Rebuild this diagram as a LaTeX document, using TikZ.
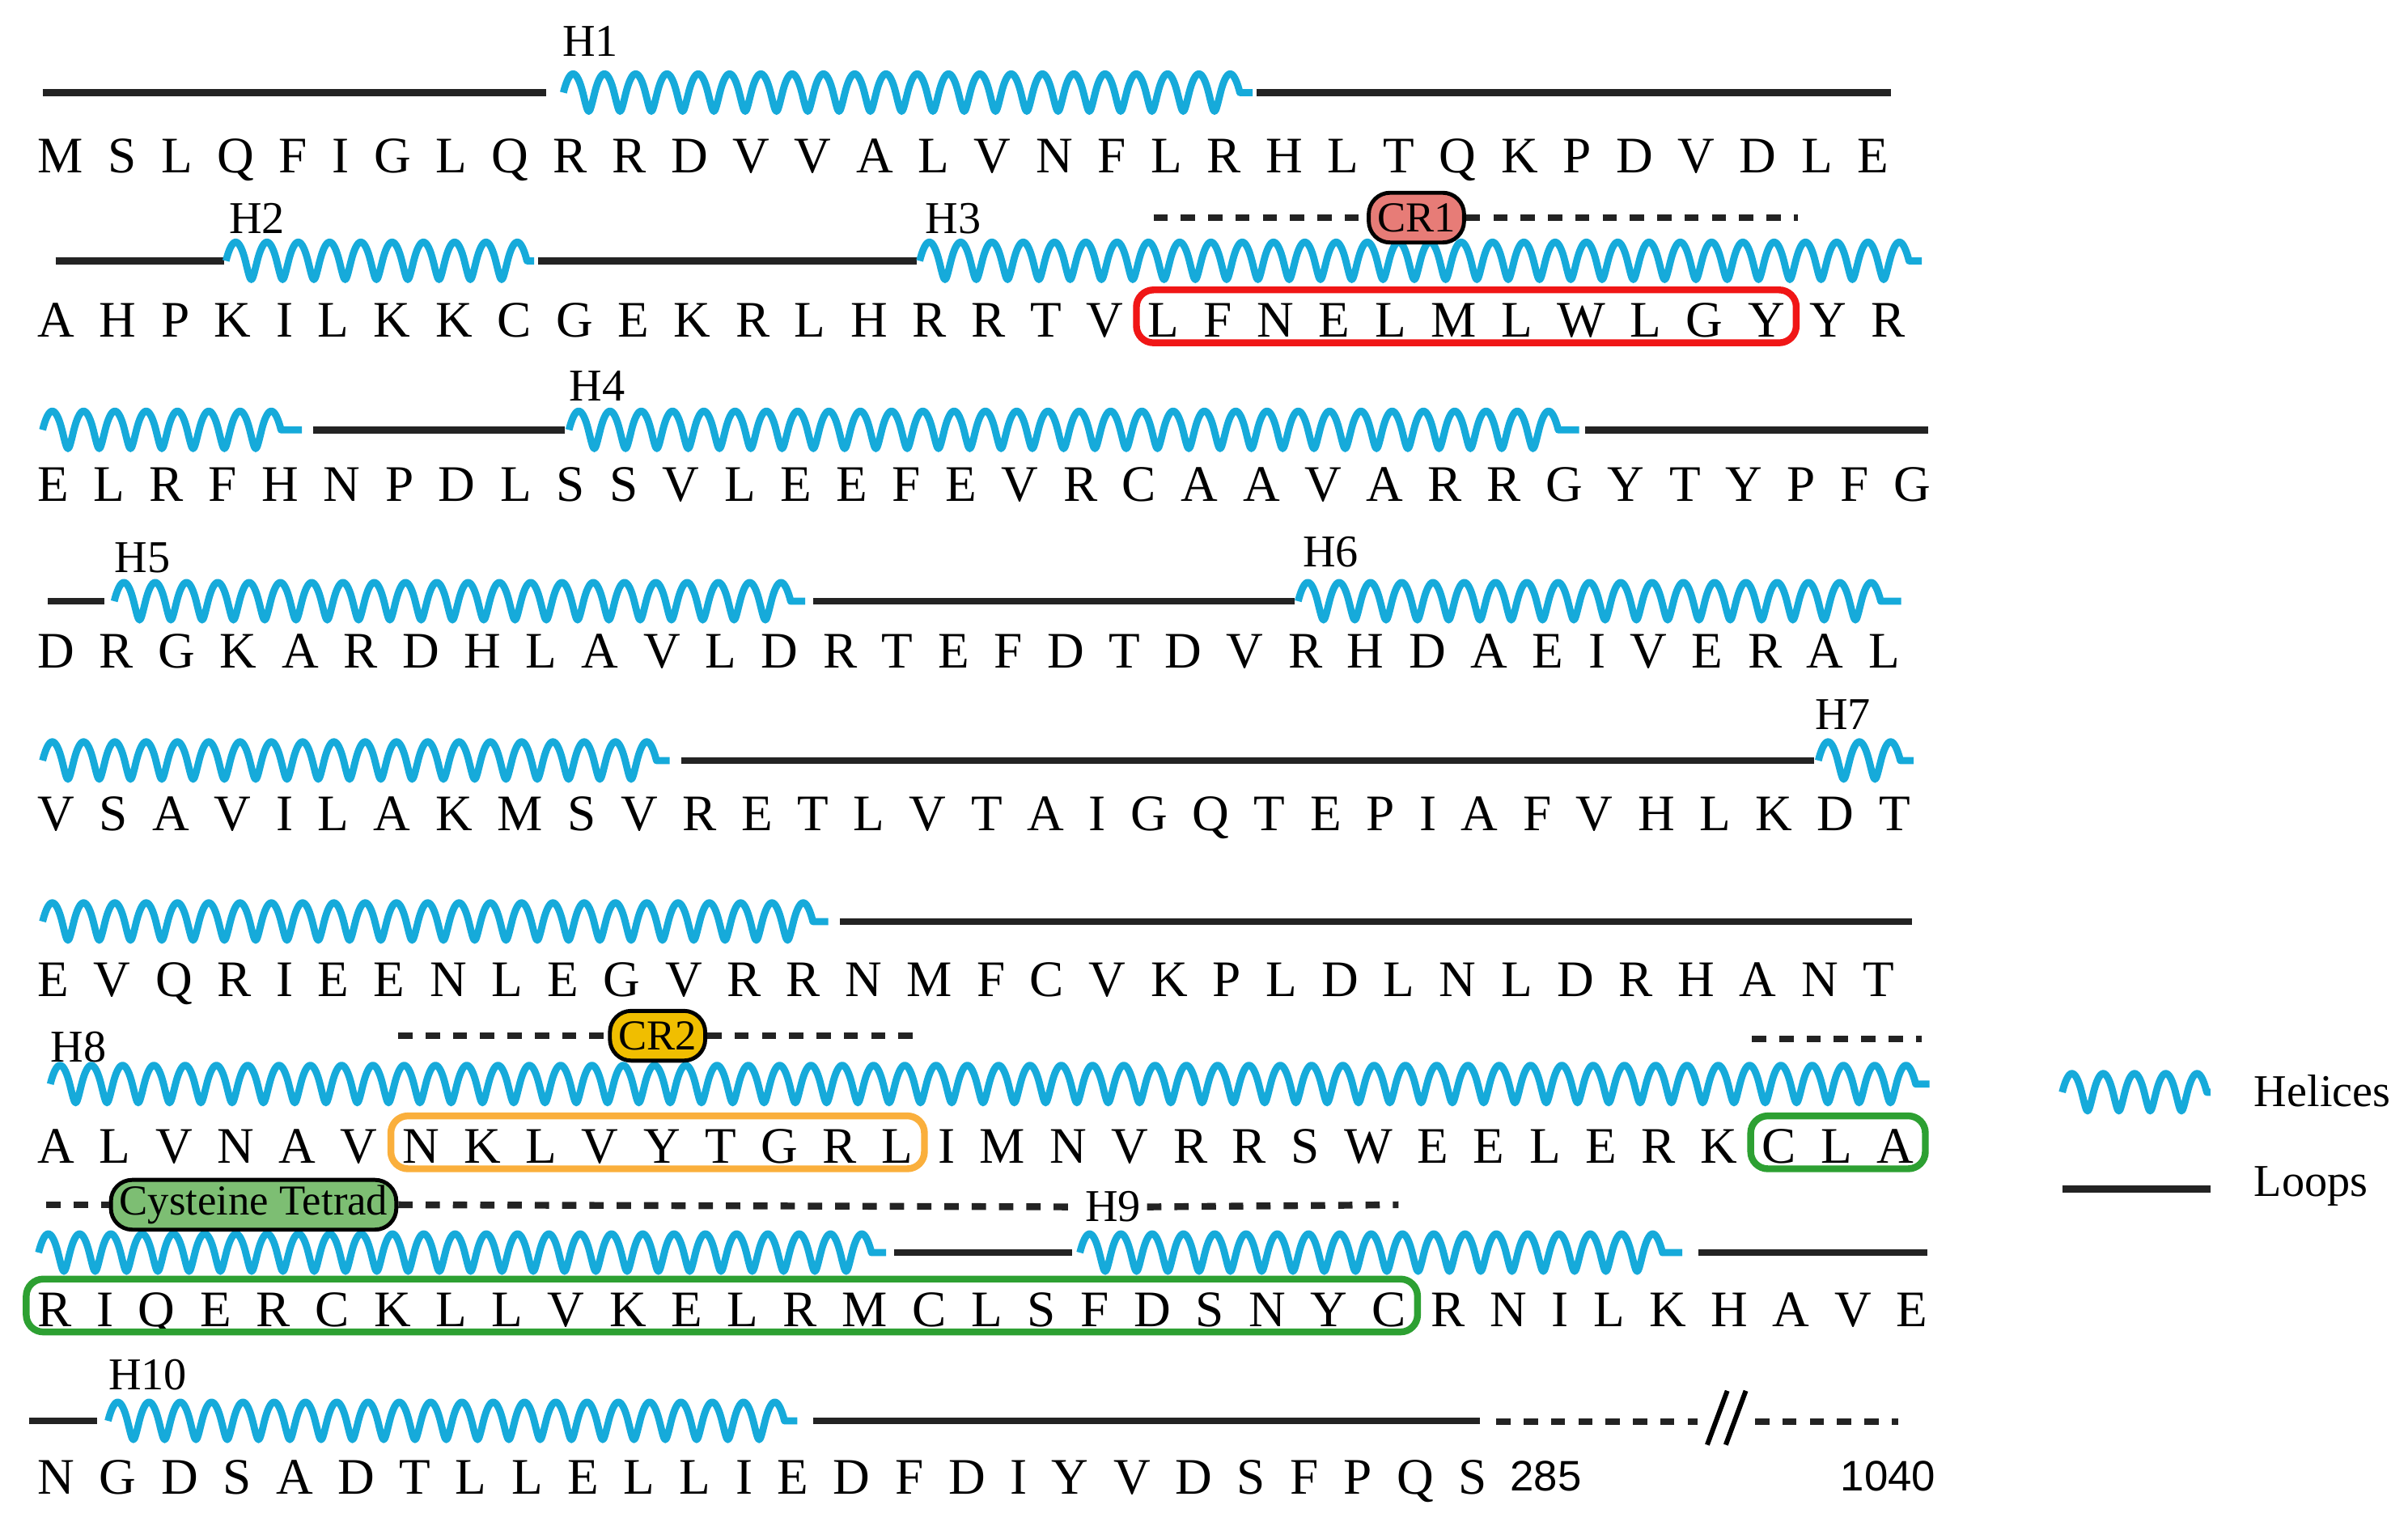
\documentclass[tikz,border=0pt]{standalone}
\usepackage{fontspec}
\setmainfont{Liberation Serif}
\newfontfamily\numfont{Liberation Sans}
\usetikzlibrary{positioning,fit,decorations.pathmorphing}

\definecolor{helixblue}{RGB}{22,170,218}
\definecolor{loopgray}{RGB}{35,35,35}
\definecolor{crred}{RGB}{231,124,119}
\definecolor{crgold}{RGB}{240,190,0}
\definecolor{cysgreen}{RGB}{125,190,115}
\definecolor{boxred}{RGB}{240,22,22}
\definecolor{boxorange}{RGB}{250,175,60}
\definecolor{boxgreen}{RGB}{45,160,50}

\newcommand\aarow[3]{%
  \foreach \a [count=\i] in {#3}{%
    \ifnum\i=1
      \node[aa] (#1-1) at (24,#2) {\a};
    \else
      \pgfmathtruncatemacro\j{\i-1}
      \node[aa,base right=8.3pt of #1-\j] (#1-\i) {\a};
    \fi}}

\begin{document}
\begin{tikzpicture}[x=0.019077cm,y=-0.019077cm]
\tikzstyle{aa}=[anchor=base west,inner sep=0pt,text height=11.8pt,text depth=0pt,font=\fontsize{18}{18}\selectfont]
\tikzstyle{hname}=[anchor=base west,inner sep=0pt,font=\fontsize{16}{16}\selectfont]
\tikzstyle{helix}=[helixblue,line width=2.5pt,line join=round,decorate,decoration={coil,amplitude=6.6pt,segment length=11pt,aspect=0.1}]
\tikzstyle{loopline}=[loopgray,line width=2.5pt]
\tikzstyle{gapline}=[loopgray,line width=2.4pt,dash pattern=on 5pt off 4.6pt]
\tikzstyle{pill}=[draw=black,line width=1.4pt,rounded corners=7.5pt,minimum height=17.5pt,inner xsep=3pt,inner ysep=0pt,font=\fontsize{15}{15}\selectfont]
\tikzstyle{motif}=[draw,line width=2.4pt,rounded corners=6pt,inner xsep=3.8pt,inner ysep=3.2pt,yshift=1.4pt]
\useasboundingbox (0,0) rectangle (1560,986);

\aarow{r1}{111.8}{M,S,L,Q,F,I,G,L,Q,R,R,D,V,V,A,L,V,N,F,L,R,H,L,T,Q,K,P,D,V,D,L,E}
\aarow{r2}{218.4}{A,H,P,K,I,L,K,K,C,G,E,K,R,L,H,R,R,T,V,L,F,N,E,L,M,L,W,L,G,Y,Y,R}
\aarow{r3}{325}{E,L,R,F,H,N,P,D,L,S,S,V,L,E,E,F,E,V,R,C,A,A,V,A,R,R,G,Y,T,Y,P,F,G}
\aarow{r4}{432.5}{D,R,G,K,A,R,D,H,L,A,V,L,D,R,T,E,F,D,T,D,V,R,H,D,A,E,I,V,E,R,A,L}
\aarow{r5}{538.2}{V,S,A,V,I,L,A,K,M,S,V,R,E,T,L,V,T,A,I,G,Q,T,E,P,I,A,F,V,H,L,K,D,T}
\aarow{r6}{645.6}{E,V,Q,R,I,E,E,N,L,E,G,V,R,R,N,M,F,C,V,K,P,L,D,L,N,L,D,R,H,A,N,T}
\aarow{r7}{753.5}{A,L,V,N,A,V,N,K,L,V,Y,T,G,R,L,I,M,N,V,R,R,S,W,E,E,L,E,R,K,C,L,A}
\aarow{r8}{859.2}{R,I,Q,E,R,C,K,L,L,V,K,E,L,R,M,C,L,S,F,D,S,N,Y,C,R,N,I,L,K,H,A,V,E}
\aarow{r9}{968}{N,G,D,S,A,D,T,L,L,E,L,L,I,E,D,F,D,I,Y,V,D,S,F,P,Q,S}

\node[hname] (h1) at (364,36.5) {H1};
\node[hname] (h2) at (148,151) {H2};
\node[hname] (h3) at (599,151) {H3};
\node[hname] (h4) at (368.6,259.5) {H4};
\node[hname] (h5) at (74,371) {H5};
\node[hname] (h6) at (843.6,367) {H6};
\node[hname] (h7) at (1175.5,472.7) {H7};
\node[hname] (h8) at (32.6,688) {H8};
\node[hname,inner xsep=2pt] (h9) at (699,791.5) {H9};
\node[hname] (h10) at (70,900.4) {H10};

\draw[loopline] (27.6,60) -- (353.6,60);
\draw[helix] (365,60) -- (811.5,60);
\draw[loopline] (814,60) -- (1225,60);

\draw[loopline] (36,169) -- (145.4,169);
\draw[helix] (146.4,169) -- (346,169);
\draw[loopline] (348.5,169) -- (594,169);
\draw[helix] (595.8,169) -- (1245,169);

\draw[helix] (27.6,278.5) -- (195.6,278.5);
\draw[loopline] (203,278.5) -- (366,278.5);
\draw[helix] (368.6,278.5) -- (1023,278.5);
\draw[loopline] (1027,278.5) -- (1249,278.5);

\draw[loopline] (31,389.5) -- (67.7,389.5);
\draw[helix] (74,389.5) -- (521.6,389.5);
\draw[loopline] (526.6,389.5) -- (838.7,389.5);
\draw[helix] (841,389.5) -- (1231.6,389.5);

\draw[helix] (27.6,492.7) -- (433.8,492.7);
\draw[loopline] (441.3,492.7) -- (1175,492.7);
\draw[helix] (1178,492.7) -- (1239.7,492.7);

\draw[helix] (27.6,597) -- (536.6,597);
\draw[loopline] (544,597) -- (1238.6,597);

\draw[helix] (32.6,702.3) -- (1250,702.3);

\draw[helix] (25,811.5) -- (574,811.5);
\draw[loopline] (579,811.5) -- (694.6,811.5);
\draw[helix] (699.6,811.5) -- (1089.8,811.5);
\draw[loopline] (1100.5,811.5) -- (1248.8,811.5);

\draw[loopline] (19,920.5) -- (62.7,920.5);
\draw[helix] (70,920.5) -- (516.5,920.5);
\draw[loopline] (526.6,920.5) -- (958.7,920.5);

\node[pill,fill=crred] (cr1) at (917.6,141) {CR1};
\coordinate (cr1a) at (747.3,141);
\coordinate (cr1b) at (1164.7,141);
\draw[gapline] (cr1a) -- (cr1.west);
\draw[gapline] (cr1.east) -- (cr1b);

\node[pill,fill=crgold] (cr2) at (426,671) {CR2};
\coordinate (cr2a) at (258,671);
\coordinate (cr2b) at (596,671);
\draw[gapline] (cr2a) -- (cr2.west);
\draw[gapline] (cr2.east) -- (cr2b);
\coordinate (cla) at (1135,673);
\coordinate (clb) at (1245,673);
\draw[gapline] (cla) -- (clb);

\node[pill,fill=cysgreen] (cys) at (164.3,780.5) {Cysteine Tetrad};
\coordinate (cysa) at (30,780.5);
\coordinate (cysb) at (906,780.5);
\draw[gapline] (cysa) -- (cys.west);
\draw[gapline] (cys.east) -- (h9.west);
\draw[gapline] (h9.east) -- (cysb);

\node[motif,boxred,fit=(r2-20)(r2-30)] (cr1box) {};
\node[motif,boxorange,fit=(r7-7)(r7-15)] (cr2box) {};
\node[motif,boxgreen,fit=(r7-30)(r7-32)] (cys1box) {};
\node[motif,boxgreen,fit=(r8-1)(r8-24)] (cys2box) {};

\coordinate (enda) at (969.4,921);
\coordinate (endb) at (1100,921);
\coordinate (endc) at (1137,921);
\coordinate (endd) at (1230,921);
\draw[gapline] (enda) -- (endb);
\draw[gapline] (endc) -- (endd);
\draw[black,line width=1.7pt] (1106,936) -- (1119,901) (1118,936) -- (1131,901);
\node[anchor=base west,inner sep=0pt,font=\numfont\fontsize{15}{15}\selectfont] (n285) at (978,966) {285};
\node[anchor=base west,inner sep=0pt,font=\numfont\fontsize{15}{15}\selectfont] (n1040) at (1192,966) {1040};

\draw[helix] (1336,707.6) -- (1432,707.6);
\node[hname] (lhel) at (1460,716.6) {Helices};
\draw[loopline] (1336,770.5) -- (1432,770.5);
\node[hname] (lloop) at (1460,775) {Loops};
\end{tikzpicture}
\end{document}
